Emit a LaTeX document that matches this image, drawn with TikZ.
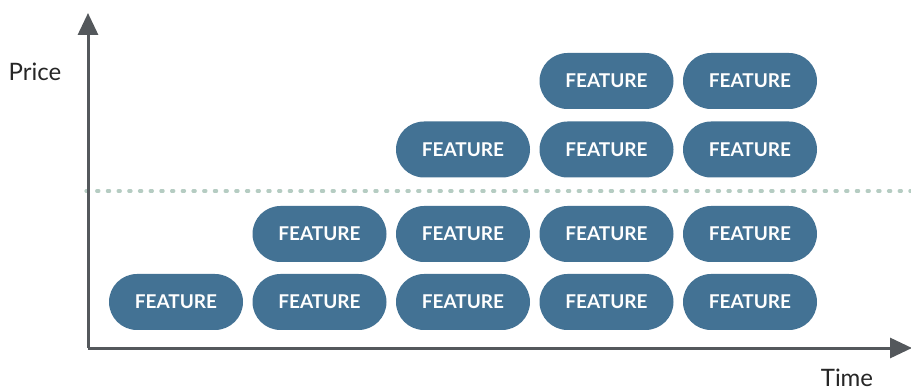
\documentclass[tikz,border=0pt]{standalone}
\usepackage{fontspec}
\setmainfont{Lato}
\usetikzlibrary{arrows.meta}
\definecolor{pill}{HTML}{437294}
\definecolor{axisc}{HTML}{54585C}
\definecolor{dotc}{HTML}{B5CCC2}
\tikzset{
  feat/.style={draw=none, fill=pill, rounded corners=28pt, minimum width=134pt, minimum height=56pt, inner sep=0pt, text=white, font=\fontsize{19}{19}\selectfont\bfseries},
  axisline/.style={draw=axisc, line width=3pt, -{Triangle[length=22pt,width=20pt]}},
  lbl/.style={text=black!85, font=\fontsize{24}{24}\selectfont, inner sep=0pt}
}
\begin{document}
\begin{tikzpicture}[x=1pt,y=-1pt]
\useasboundingbox (0,0) rectangle (911,390);
\coordinate (o) at (88,348);
\coordinate (ytop) at (88,13);
\coordinate (xend) at (912,348);
\coordinate (d1) at (86,191);
\coordinate (d2) at (911,191);
\draw[dotc, line width=3.2pt, line cap=round, dash pattern=on 2.2pt off 8.5pt] (d1) -- (d2);
\draw[axisline] (o) -- (ytop);
\draw[axisline] (o) -- (xend);
\node[lbl] (price) at (35,72) {Price};
\node[lbl] (time) at (847,378) {Time};
% row 1
\node[feat] (f11) at (176,302) {FEATURE};
\node[feat] (f12) at (319.5,302) {FEATURE};
\node[feat] (f13) at (463,302) {FEATURE};
\node[feat] (f14) at (606.5,302) {FEATURE};
\node[feat] (f15) at (750,302) {FEATURE};
% row 2
\node[feat] (f22) at (319.5,234) {FEATURE};
\node[feat] (f23) at (463,234) {FEATURE};
\node[feat] (f24) at (606.5,234) {FEATURE};
\node[feat] (f25) at (750,234) {FEATURE};
% row 3
\node[feat] (f33) at (463,149.5) {FEATURE};
\node[feat] (f34) at (606.5,149.5) {FEATURE};
\node[feat] (f35) at (750,149.5) {FEATURE};
% row 4
\node[feat] (f44) at (606.5,81) {FEATURE};
\node[feat] (f45) at (750,81) {FEATURE};
\end{tikzpicture}
\end{document}
